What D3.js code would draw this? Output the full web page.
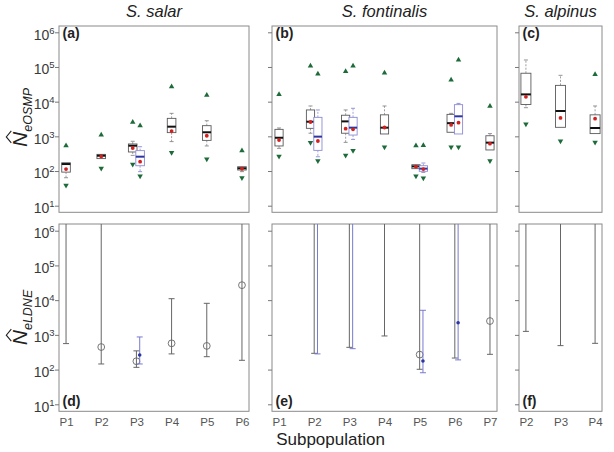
<!DOCTYPE html>
<html><head><meta charset="utf-8">
<script src="https://cdn.jsdelivr.net/npm/d3@7"></script>
<style>body{margin:0;background:#fff}</style>
</head><body><svg id="c" width="614" height="452"></svg>
<script>
// ---------------- DATA ----------------
const salarPops = ["P1","P2","P3","P4","P5","P6"];
const fontinalisPops = ["P1","P2","P3","P4","P5","P6","P7"];
const alpinusPops = ["P2","P3","P4"];
const speciesTitles = ["S. salar","S. fontinalis","S. alpinus"];
const topLabels = ["(a)","(b)","(c)"];
const bottomLabels = ["(d)","(e)","(f)"];
const yTicks = [1e1,1e2,1e3,1e4,1e5,1e6];
const yTickExp = ["1","2","3","4","5","6"];

// OSMP boxes: [pop, group(k=black,b=blue), lowerWhisker, q1, median, q3, upperWhisker, mean, lowerCI, upperCI]
const osmpSalar = [
  ["P1","k",  64,   93,  159,  173,  180,  114,  38.6,  537],
  ["P2","k", 215,  228,  276,  302,  320,  264,  120,  1098],
  ["P3","k", 283,  354,  537,  603,  720,  460,  156,  2580],
  ["P3","b",  96,  142,  259,  387,  502,  186,   72,  2030],
  ["P4","k", 705, 1280, 1900, 3300, 4600, 1420,  340, 27000],
  ["P5","k", 528,  765, 1310, 2030, 2820, 1040,  222, 15500],
  ["P6","k",  96,  107,  120,  133,  142,  117,   64,   387]
];
const osmpFontinalis = [
  ["P1","k",  450,  528,  910, 1590, 1740,  780, 265,  16200],
  ["P2","k", 1230, 1700, 2640, 5770, 7500, 2590, 658, 107000],
  ["P2","b",  258,  394,  980, 3530, 5770,  735, 198,  63000],
  ["P3","k",  670, 1230, 2700, 4060, 5770, 1660, 283,  74000],
  ["P3","b",  815, 1090, 1780, 3530, 6440, 1590, 387, 107000],
  ["P4","k", 1170, 1170, 1780, 4170, 7500, 1800, 490,  67500],
  ["P5","k",  115,  117,  136,  152,  155,  133,  72,    537],
  ["P5","b",   91,   98,  117,  142,  170,  114,  63,    550],
  ["P6","k", 1230, 1310, 2400, 4300, 4600, 2130, 490,  42200],
  ["P6","b", 1170, 1170, 3780, 8200, 8900, 2470, 490, 159000],
  ["P7","k",  394,  405,  658, 1040, 1200,  614, 198,   7400]
];
const osmpAlpinus = [
  ["P2","k", 6700, 8300, 16200, 66000, 159000, 13800, 2240, null],
  ["P3","k", 1820, 1820,  5370, 29500,  57500,  3390,  735, null],
  ["P4","k", 1200, 1200,  1740,  4170,   7500,  3240,  670, 61500]
];

// LDNE: [pop, group, estimate, lowerCI, upperCI]
const ldneSalar = [
  ["P1","k", Infinity, 560, Infinity],
  ["P2","k", 446, 145, Infinity],
  ["P3","k", 174, 116, 346],
  ["P3","b", 263, 145, 870],
  ["P4","k", 570, 283, 11000],
  ["P5","k", 480, 235, 8100],
  ["P6","k", 27000, 185, Infinity]
];
const ldneFontinalis = [
  ["P2","k", Infinity, 294, Infinity],
  ["P2","b", Infinity, 283, Infinity],
  ["P3","k", Infinity, 437, Infinity],
  ["P3","b", Infinity, 400, Infinity],
  ["P4","k", Infinity, 930, Infinity],
  ["P5","k", 270, 102, Infinity],
  ["P5","b", 177, 81, 5100],
  ["P6","k", Infinity, 215, Infinity],
  ["P6","b", 2240, 190, Infinity],
  ["P7","k", 2500, 275, Infinity]
];
const ldneAlpinus = [
  ["P2","k", Infinity, 1260, Infinity],
  ["P3","k", Infinity, 490, Infinity],
  ["P4","k", Infinity, 570, Infinity]
];

// ---------------- LAYOUT ----------------
const FONT = "'Liberation Sans', Arial, Helvetica, sans-serif";
const svg = d3.select("#c");
const TOP = {y0: 26, y1: 212.3};
const BOT = {y0: 224, y1: 411.3};
const topY = d3.scaleLog().domain([10, 1e6]).range([205.7, 32.3]);
const botY = d3.scaleLog().domain([10, 1e6]).range([404.3, 230.7]);

const panels = [
  {pops: salarPops, x0: 59, x1: 249, osmp: osmpSalar, ldne: ldneSalar, bw: 8.6, labels: true},
  {pops: fontinalisPops, x0: 272, x1: 497, osmp: osmpFontinalis, ldne: ldneFontinalis, bw: 8.2, labels: false},
  {pops: alpinusPops, x0: 519, x1: 602, osmp: osmpAlpinus, ldne: ldneAlpinus, bw: 10, labels: false}
];

const C = {
  frame: "#8a8a8a", tick: "#777", text: "#3a3a3a",
  green: "#1e6b3a", red: "#d41f1f",
  kBox: "#5a5a5a", bBox: "#8b8bd6", kMed: "#111", bMed: "#2b36a0",
  whisk: "#888", kErr: "#666", bErr: "#7a7ad0", bPt: "#2b36a0"
};

function yAxis(g, scale, x, labels) {
  const ax = d3.axisLeft(scale).tickValues(yTicks).tickSize(4).tickFormat("");
  const a = g.append("g").attr("transform", `translate(${x},0)`).call(ax);
  a.select(".domain").remove();
  a.selectAll(".tick line").attr("stroke", C.tick);
  if (labels) {
    a.selectAll(".tick").each(function(d, i) {
      const t = d3.select(this).append("text")
        .attr("x", -4.5).attr("y", 6.7)
        .attr("text-anchor", "end")
        .style("font-family", FONT).style("font-size", "14px").attr("fill", C.text);
      t.append("tspan").text("10");
      t.append("tspan").text(yTickExp[i]).attr("dy", -6).style("font-size", "9.5px");
    });
  }
}

panels.forEach((p, pi) => {
  const n = p.pops.length;
  const xs = d3.scaleLinear().domain([0.8, n + 0.2]).range([p.x0, p.x1]);
  const xi = pop => xs(p.pops.indexOf(pop) + 1);

  // ---- species title
  svg.append("text").attr("x", (p.x0 + p.x1) / 2).attr("y", 17)
    .attr("text-anchor", "middle").style("font-family", FONT)
    .style("font-size", "16.5px").style("font-style", "italic").attr("fill", "#222")
    .text(speciesTitles[pi]);

  // ---- top panel
  const gt = svg.append("g");
  gt.append("rect").attr("x", p.x0).attr("y", TOP.y0).attr("width", p.x1 - p.x0).attr("height", TOP.y1 - TOP.y0)
    .attr("fill", "none").attr("stroke", C.frame).attr("stroke-width", 1);
  yAxis(gt, topY, p.x0, p.labels);
  gt.append("text").attr("x", p.x0 + 3.5).attr("y", 38).style("font-family", FONT)
    .style("font-size", "14px").style("font-weight", "bold").attr("fill", "#222").text(topLabels[pi]);

  const hasBlue = new Set(p.osmp.filter(d => d[1] === "b").map(d => d[0]));
  const off = 3.7;
  p.osmp.forEach(d => {
    const [pop, grp, lw, q1, med, q3, uw, mean, lo, hi] = d;
    const cx = xi(pop) + (grp === "b" ? off : (hasBlue.has(pop) ? -off : 0));
    const hw = p.bw / 2;
    const g = gt.append("g");
    // whiskers
    [[q3, uw], [q1, lw]].forEach(([from, to]) => {
      if (to == null || Math.abs(topY(from) - topY(to)) < 1) return;
      g.append("line").attr("x1", cx).attr("x2", cx).attr("y1", topY(from)).attr("y2", topY(to))
        .attr("stroke", grp === "b" ? C.bBox : C.whisk).attr("stroke-width", 0.8).attr("stroke-dasharray", "2,1.5");
      g.append("line").attr("x1", cx - 2).attr("x2", cx + 2).attr("y1", topY(to)).attr("y2", topY(to))
        .attr("stroke", grp === "b" ? C.bBox : C.whisk).attr("stroke-width", 0.9);
    });
    // box
    g.append("rect").attr("x", cx - hw).attr("width", p.bw)
      .attr("y", topY(q3)).attr("height", Math.max(1, topY(q1) - topY(q3)))
      .attr("fill", "#fff").attr("stroke", grp === "b" ? C.bBox : C.kBox).attr("stroke-width", 0.9);
    g.append("line").attr("x1", cx - hw).attr("x2", cx + hw).attr("y1", topY(med)).attr("y2", topY(med))
      .attr("stroke", grp === "b" ? C.bMed : C.kMed).attr("stroke-width", 2);
    // mean
    g.append("circle").attr("cx", cx).attr("cy", topY(mean)).attr("r", 1.9).attr("fill", C.red);
    // CI triangles
    if (hi != null) g.append("path").attr("d", d3.symbol(d3.symbolTriangle, 13)())
      .attr("transform", `translate(${cx},${topY(hi)})`).attr("fill", C.green);
    if (lo != null) g.append("path").attr("d", d3.symbol(d3.symbolTriangle, 13)())
      .attr("transform", `translate(${cx},${topY(lo)}) rotate(180)`).attr("fill", C.green);
  });

  // ---- bottom panel
  const gb = svg.append("g");
  gb.append("rect").attr("x", p.x0).attr("y", BOT.y0).attr("width", p.x1 - p.x0).attr("height", BOT.y1 - BOT.y0)
    .attr("fill", "none").attr("stroke", C.frame).attr("stroke-width", 1);
  yAxis(gb, botY, p.x0, p.labels);
  gb.append("text").attr("x", p.x0 + 3.5).attr("y", 405.5).style("font-family", FONT)
    .style("font-size", "14px").style("font-weight", "bold").attr("fill", "#222").text(bottomLabels[pi]);

  const xa = d3.axisBottom(xs).tickValues(d3.range(1, n + 1)).tickFormat(i => p.pops[i - 1]).tickSize(0).tickPadding(6.5);
  const xg = gb.append("g").attr("transform", `translate(0,${BOT.y1})`).call(xa);
  xg.select(".domain").remove();
  xg.selectAll("text").style("font-family", FONT).style("font-size", "11.5px").attr("fill", "#555");

  p.ldne.forEach(d => {
    const [pop, grp, est, lo, hi] = d;
    const cx = xi(pop) + (grp === "b" ? 3.3 : 0);
    const col = grp === "b" ? C.bErr : C.kErr;
    const yT = isFinite(hi) ? botY(hi) : BOT.y0;
    const yB = botY(lo);
    gb.append("line").attr("x1", cx).attr("x2", cx).attr("y1", yT).attr("y2", yB)
      .attr("stroke", col).attr("stroke-width", 1);
    gb.append("line").attr("x1", cx - 3).attr("x2", cx + 3).attr("y1", yB).attr("y2", yB)
      .attr("stroke", col).attr("stroke-width", 1);
    if (isFinite(hi)) gb.append("line").attr("x1", cx - 3).attr("x2", cx + 3).attr("y1", yT).attr("y2", yT)
      .attr("stroke", col).attr("stroke-width", 1);
    if (isFinite(est)) {
      if (grp === "b") gb.append("circle").attr("cx", cx).attr("cy", botY(est)).attr("r", 1.8).attr("fill", C.bPt);
      else gb.append("circle").attr("cx", cx).attr("cy", botY(est)).attr("r", 3.4)
        .attr("fill", "none").attr("stroke", "#666").attr("stroke-width", 0.9);
    }
  });
});

// ---- axis titles
function yTitle(cx, cy, sub) {
  const g = svg.append("g").attr("transform", `translate(${cx},${cy}) rotate(-90)`);
  const t = g.append("text").attr("text-anchor", "middle").style("font-family", FONT).attr("fill", "#222");
  t.append("tspan").text("N").style("font-style", "italic").style("font-size", "21px");
  t.append("tspan").text(sub).attr("dy", 5).style("font-style", "italic").style("font-size", "12.5px");
  const bb = t.node().getBBox();
  const nW = t.node().getSubStringLength(0, 1);
  const hx = bb.x + nW / 2 + 2.5;
  g.append("path").attr("d", `M${hx - 6},-15.5 L${hx},-20.5 L${hx + 6},-15.5`)
    .attr("fill", "none").attr("stroke", "#222").attr("stroke-width", 1.1);
}
yTitle(26.8, 117.5, "eOSMP");
yTitle(26.8, 317.5, "eLDNE");

svg.append("text").attr("x", 330.5).attr("y", 445).attr("text-anchor", "middle")
  .style("font-family", FONT).style("font-size", "17px").attr("fill", "#222").text("Subpopulation");
</script></body></html>
